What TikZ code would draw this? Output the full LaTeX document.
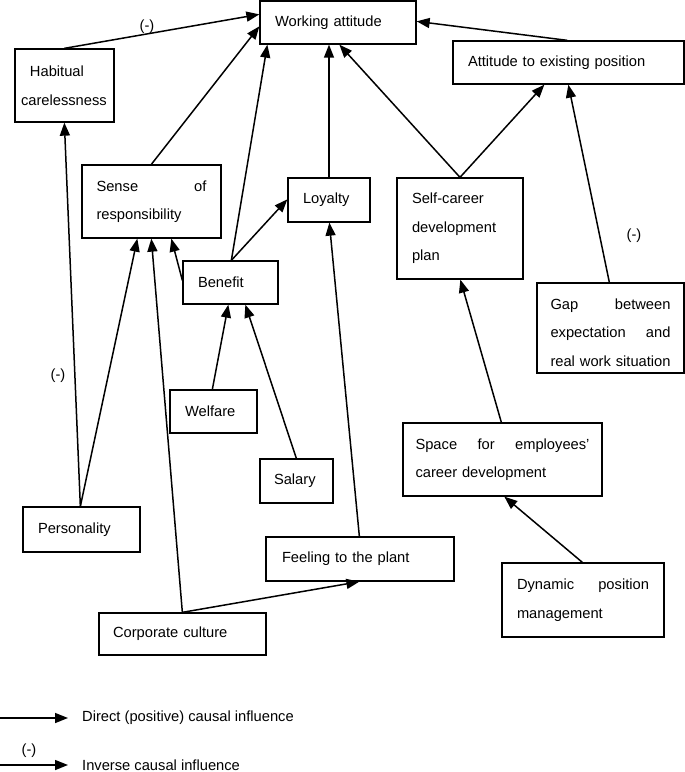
\documentclass[tikz,border=0pt]{standalone}
\usepackage{fontspec}
\setmainfont{Liberation Sans}
\usetikzlibrary{arrows.meta,calc}
\begin{document}
\begin{tikzpicture}[x=1pt,y=-1pt,
  bx/.style={draw, line width=1.3pt, inner xsep=15pt, inner ysep=0pt, align=left,
    font=\fontsize{14.7pt}{28.5pt}\selectfont},
  arr/.style={line width=1.5pt, -{Triangle[length=13pt,width=10pt]}},
  lbl/.style={font=\fontsize{14.7pt}{17pt}\selectfont, inner sep=0pt}]
\useasboundingbox (0,0) rectangle (685,772);

% boxes
\node[bx, text width=126pt, minimum height=43pt] (wa) at (338,22.5) {Working attitude};
\node[bx, text width=201pt, minimum height=43pt] (aep) at (568.5,62.5) {Attitude to existing position};
\node[bx, text width=87pt, inner xsep=6pt, minimum height=73pt] (hc) at (64.5,85.5) {\hspace*{9pt}Habitual\\carelessness};
\node[bx, text width=110pt, inner xsep=14.5pt, minimum height=73pt] (sr) at (151.5,201.5) {Sense\hfill of\\responsibility};
\node[bx, text width=52pt, minimum height=44pt] (loy) at (329,200) {Loyalty};
\node[bx, text width=65pt, minimum height=43pt] (ben) at (230.5,282.5) {Benefit};
\node[bx, text width=96pt, minimum height=101pt] (scdp) at (460,228.5) {Self-career\\development\\plan};
\node[bx, text width=120pt, inner xsep=13.5pt, minimum height=90pt] (gap) at (610.5,328) {\rule{0pt}{20pt}Gap\hfill between\\expectation\hfill and\\\mbox{real work situation}};
\node[bx, text width=57pt, minimum height=43pt] (wel) at (213.5,411.5) {Welfare};
\node[bx, text width=45pt, inner xsep=14pt, minimum height=44pt] (sal) at (296.5,481) {Salary};
\node[bx, text width=87pt, minimum height=45pt] (pers) at (81.5,529.5) {Personality};
\node[bx, text width=156pt, inner xsep=16pt, minimum height=44pt] (feel) at (360,559) {Feeling to the plant};
\node[bx, text width=139pt, inner xsep=14pt, minimum height=42pt] (cc) at (182.5,634) {Corporate culture};
\node[bx, text width=174pt, inner xsep=12.5pt, minimum height=73pt] (sp) at (502.5,459.5) {Space\hfill for\hfill employees'\\career development};
\node[bx, text width=132pt, minimum height=74pt] (dyn) at (583,600) {Dynamic\hfill position\\management};

% connectors
\draw[arr] ($(hc.north west)+(50,0)$) -- ($(wa.north west)+(0,14)$);
\draw[arr] ($(sr.north west)+(70,0)$) -- ($(wa.north west)+(0,26)$);
\draw[arr] ($(ben.north west)+(49,0)$) -- ($(wa.south west)+(8,0)$);
\draw[arr] (loy.north) -- (loy.north |- wa.south);
\draw[arr] (scdp.north) -- ($(wa.south west)+(80,0)$);
\draw[arr] ($(aep.north west)+(115,0)$) -- ($(wa.north east)+(0,21)$);
\draw[arr] (scdp.north) -- ($(aep.south west)+(92,0)$);
\draw[arr] ($(gap.north west)+(73,0)$) -- ($(aep.south west)+(116,0)$);
\draw[arr] ($(pers.north west)+(58,0)$) -- ($(hc.south west)+(50,0)$);
\draw[arr] ($(pers.north west)+(58,0)$) -- ($(sr.south west)+(56,0)$);
\draw[arr] ($(cc.north west)+(84,0)$) -- ($(sr.south west)+(70,0)$);
\draw[arr] ($(ben.north west)+(0,20)$) -- ($(sr.south west)+(90,0)$);
\draw[arr] ($(ben.north west)+(49,0)$) -- ($(loy.north west)+(0,22)$);
\draw[arr] ($(wel.north west)+(43,0)$) -- ($(ben.south west)+(46,0)$);
\draw[arr] ($(sal.north west)+(37,0)$) -- ($(ben.south west)+(63,0)$);
\draw[arr] ($(feel.north west)+(94,0)$) -- ($(loy.south west)+(42,0)$);
\draw[arr] ($(cc.north west)+(84,0)$) -- ($(feel.south west)+(94,0)$);
\draw[arr] ($(sp.north west)+(99,0)$) -- ($(scdp.south west)+(64,0)$);
\draw[arr] ($(dyn.north west)+(81,0)$) -- ($(sp.south west)+(102,0)$);

% (-) labels
\node[lbl] (m1) at (147,27) {(-)};
\node[lbl] (m2) at (634,236) {(-)};
\node[lbl] (m3) at (58,376) {(-)};

% legend
\coordinate (la1) at (0,718);
\coordinate (lb1) at (68,718);
\draw[arr] (la1) -- (lb1);
\node[lbl, anchor=west] (lt1) at (82,718) {Direct (positive) causal influence};
\coordinate (la2) at (0,765);
\coordinate (lb2) at (68,765);
\draw[arr] (la2) -- (lb2);
\node[lbl] (lm) at (29,751) {(-)};
\node[lbl, anchor=west] (lt2) at (82,765) {Inverse causal influence};
\end{tikzpicture}
\end{document}
